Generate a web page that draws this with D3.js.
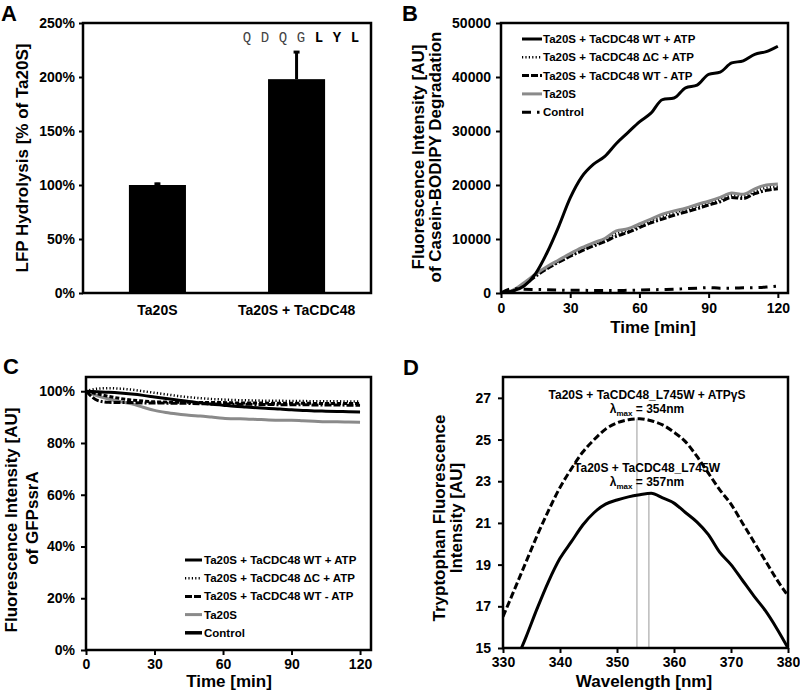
<!DOCTYPE html>
<html><head><meta charset="utf-8">
<script src="https://cdn.jsdelivr.net/npm/d3@7"></script>
<style>
body{margin:0;background:#fff;}
svg text{font-family:"Liberation Sans",Arial,Helvetica,sans-serif;font-weight:bold;fill:#000;}
</style></head><body>
<svg id="c" width="800" height="690"></svg>
<script>
// ---------------- DATA ----------------
// Panel A
const barCategories = ["Ta20S", "Ta20S + TaCDC48"];
const barValues = [1.00, 1.98];
const barErrors = [0.02, 0.26];
const barTicks = [0, 0.5, 1, 1.5, 2, 2.5];
const sequenceLetters = ["Q", "D", "Q", "G", "L", "Y", "L"];
const sequenceBold = [false, false, false, false, true, true, true];

// Panel B (time in min, fluorescence AU)
const timeMin = [0,5,10,15,20,25,30,35,40,45,50,55,60,65,70,75,80,85,90,95,100,105,110,115,120];
const caseinWtAtp   = [0,400,1300,3600,7500,12300,17600,21500,23800,25300,27700,29700,31700,33300,35800,36100,38000,38500,40500,40900,42600,43000,44200,44700,45700];
const caseinDeltaC  = [0,400,1700,3300,4700,5900,7000,8100,9000,9800,11000,11600,12500,13400,14200,14900,15400,16000,16700,17300,18100,17900,18800,19500,19700];
const caseinWtNoAtp = [0,350,1500,3100,4500,5700,6800,7800,8700,9500,10500,11200,12100,13000,13700,14400,15000,15600,16300,16900,17700,17500,18400,19000,19300];
const caseinTa20S   = [0,500,1900,3500,4900,6100,7300,8400,9300,10100,11500,11900,12800,13700,14600,15200,15700,16400,17000,17700,18500,18300,19300,20000,20200];
const caseinControl = [0,800,700,650,600,550,500,500,450,450,450,500,550,600,650,700,800,900,1000,900,900,950,1000,1100,1300];
const caseinTicksY = [0,10000,20000,30000,40000,50000];
const timeTicks = [0,30,60,90,120];

// Panel C (% of initial GFPssrA fluorescence)
const gfpWtAtp   = [100,99.8,99.6,99.3,98.9,98.4,97.8,97.2,96.6,96.0,95.5,95.0,94.6,94.2,93.9,93.6,93.3,93.1,92.8,92.6,92.4,92.3,92.2,92.1,92.0];
const gfpDeltaC  = [100,101.0,101.2,101.0,100.6,100.0,99.4,98.8,98.2,97.7,97.3,97.0,96.8,96.6,96.5,96.4,96.3,96.3,96.2,96.2,96.1,96.1,96.1,96.0,96.0];
const gfpWtNoAtp = [100,96.5,95.7,95.6,95.6,95.5,95.5,95.4,95.4,95.3,95.2,95.1,95.1,95.0,95.0,94.9,94.9,94.8,94.8,94.8,94.7,94.7,94.7,94.6,94.6];
const gfpTa20S   = [100,98.2,97.0,96.0,95.1,93.8,92.6,91.8,91.2,90.7,90.4,90.0,89.6,89.4,89.3,89.1,88.9,88.8,88.8,88.6,88.4,88.2,88.2,88.1,88.0];
const gfpControl = [100,99.0,98.0,97.2,96.6,96.2,95.9,95.8,95.7,95.7,95.6,95.6,95.6,95.5,95.5,95.5,95.4,95.4,95.4,95.4,95.3,95.3,95.3,95.3,95.2];
const gfpTicksY = [0,0.2,0.4,0.6,0.8,1.0];

const legendNames = ["Ta20S + TaCDC48 WT + ATP", "Ta20S + TaCDC48 \u0394C + ATP", "Ta20S + TaCDC48 WT - ATP", "Ta20S", "Control"];

// Panel D (wavelength nm, tryptophan fluorescence AU)
const wavelength = [330,332,334,336,338,340,342,344,346,348,350,352,354,356,358,360,362,364,366,368,370,372,374,376,378,380];
const trpAtpGammaS = [16.5,17.8,19.1,20.4,21.6,22.7,23.6,24.4,25.0,25.5,25.8,25.95,26.0,25.9,25.7,25.35,24.9,24.2,23.4,22.6,21.9,21.0,20.1,19.2,18.3,17.5];
const trpNoNucleotide = [12.9,14.2,15.5,16.9,18.2,19.3,20.1,20.9,21.5,21.9,22.1,22.25,22.35,22.42,22.2,21.95,21.5,21.05,20.45,19.6,19.0,18.25,17.5,16.8,15.95,15.0];
const trpTicksY = [15,17,19,21,23,25,27];
const wavelengthTicks = [330,340,350,360,370,380];
const peakWavelengths = [353.5, 355.6];
const peakIntensities = [26.0, 22.42];
const annotationTitles = ["Ta20S + TaCDC48_L745W + ATP\u03B3S", "Ta20S + TaCDC48_L745W"];
const annotationLambda = ["354nm", "357nm"];

// ---------------- STYLES ----------------
const FONT = '"Liberation Sans", Arial, Helvetica, sans-serif';
const TICK_FS = 14;
const TITLE_FS = 17;
const LEG_FS = 11.5;
const seriesStyle = [
  {stroke:"#000", width:3, dash:null},
  {stroke:"#000", width:2.5, dash:"1.2,2.2"},
  {stroke:"#000", width:3, dash:"7,2,7,2,2,2"},
  {stroke:"#8a8a8a", width:3, dash:null},
  {stroke:"#000", width:3, dash:"9,6,2.5,6"}
];
const seriesStyleC = seriesStyle.map((s,i)=> i===4 ? {stroke:"#000", width:3, dash:"4,2"} : s);
const legendStyleC = seriesStyle.map((s,i)=> i===4 ? {stroke:"#000", width:3.5, dash:null} : s);

const svg = d3.select("#c");

function frame(x0,y0,x1,y1){
  svg.append("rect").attr("x",x0).attr("y",y0).attr("width",x1-x0).attr("height",y1-y0)
    .attr("fill","none").attr("stroke","#000").attr("stroke-width",2.5);
}
function styleAxis(sel){
  sel.select(".domain").remove();
  sel.selectAll(".tick line").attr("stroke","#000").attr("stroke-width",2);
  sel.selectAll(".tick text").attr("font-size",TICK_FS).attr("font-weight","bold")
    .attr("font-family",FONT).attr("fill","#000");
}
function vTitle(x,y,txt,size){
  svg.append("text").attr("transform",`translate(${x},${y}) rotate(-90)`)
    .attr("text-anchor","middle").attr("dominant-baseline","central")
    .attr("font-size",size||TITLE_FS).text(txt);
}
function hTitle(x,y,txt,size){
  svg.append("text").attr("x",x).attr("y",y).attr("text-anchor","middle")
    .attr("font-size",size||TITLE_FS).text(txt);
}
function letter(x,y,t){
  svg.append("text").attr("x",x).attr("y",y).attr("font-size",22).text(t);
}
function applyStyle(sel, s){
  sel.attr("fill","none").attr("stroke",s.stroke).attr("stroke-width",s.width)
     .attr("stroke-dasharray",s.dash).attr("stroke-linejoin","round");
}

// ---------------- PANEL A ----------------
const A = {l:83, r:371, t:23, b:293};
const xA = d3.scaleBand().domain(barCategories).range([A.l,A.r]).paddingInner(0.59).paddingOuter(0.33);
const yA = d3.scaleLinear().domain([0,2.5]).range([A.b,A.t]);
svg.append("g").selectAll("rect").data(barCategories).join("rect")
  .attr("x",d=>xA(d)).attr("width",xA.bandwidth())
  .attr("y",(d,i)=>yA(barValues[i])).attr("height",(d,i)=>yA(0)-yA(barValues[i]))
  .attr("fill","#000");
const errG = svg.append("g");
barCategories.forEach((c,i)=>{
  const cx = xA(c)+xA.bandwidth()/2;
  errG.append("line").attr("x1",cx).attr("x2",cx).attr("y1",yA(barValues[i])).attr("y2",yA(barValues[i]+barErrors[i]))
    .attr("stroke","#000").attr("stroke-width",3);
  errG.append("line").attr("x1",cx-3).attr("x2",cx+3).attr("y1",yA(barValues[i]+barErrors[i])+1).attr("y2",yA(barValues[i]+barErrors[i])+1)
    .attr("stroke","#000").attr("stroke-width",3);
});
svg.append("g").attr("transform",`translate(${A.l},0)`)
  .call(d3.axisLeft(yA).tickValues(barTicks).tickSize(4).tickPadding(4).tickFormat(d3.format(".0%"))).call(styleAxis);
svg.append("g").attr("transform",`translate(0,${A.b})`)
  .call(d3.axisBottom(xA).tickSize(0).tickPadding(12)).call(styleAxis);
frame(A.l,A.t,A.r,A.b);
const seqX = d3.scalePoint().domain(d3.range(sequenceLetters.length)).range([247,355]);
svg.append("g").selectAll("text").data(sequenceLetters).join("text")
  .attr("x",(d,i)=>seqX(i)).attr("y",42).attr("text-anchor","middle")
  .style("font-family",'"Liberation Mono","Courier New",monospace')
  .style("font-weight",(d,i)=>sequenceBold[i]?"bold":"normal")
  .style("fill",(d,i)=>sequenceBold[i]?"#000":"#444")
  .attr("font-size",14).text(d=>d);
vTitle(22,158,"LFP Hydrolysis [% of Ta20S]");
letter(1,21,"A");

// ---------------- PANEL B ----------------
const B = {l:501, r:788, t:23, b:293};
const xB = d3.scaleLinear().domain([0,124.4]).range([B.l,B.r]);
const yB = d3.scaleLinear().domain([0,50000]).range([B.b,B.t]);
svg.append("clipPath").attr("id","clipB").append("rect").attr("x",B.l).attr("y",B.t).attr("width",B.r-B.l).attr("height",B.b-B.t);
const seriesB = [caseinWtAtp, caseinDeltaC, caseinWtNoAtp, caseinTa20S, caseinControl];
const lineB = d3.line().x((d,i)=>xB(timeMin[i])).y(d=>yB(d)).curve(d3.curveMonotoneX);
const gB = svg.append("g").attr("clip-path","url(#clipB)");
[2,1,3,0,4].forEach(k=>{ gB.append("path").datum(seriesB[k]).attr("d",lineB).call(applyStyle, seriesStyle[k]); });
svg.append("g").attr("transform",`translate(${B.l},0)`)
  .call(d3.axisLeft(yB).tickValues(caseinTicksY).tickSize(5).tickPadding(5).tickFormat(d3.format("d"))).call(styleAxis);
svg.append("g").attr("transform",`translate(0,${B.b})`)
  .call(d3.axisBottom(xB).tickValues(timeTicks).tickSize(5).tickPadding(5)).call(styleAxis);
frame(B.l,B.t,B.r,B.b);
const legB = svg.append("g");
legendNames.forEach((n,i)=>{
  const y = 39 + i*18.3;
  legB.append("line").attr("x1",522).attr("x2",542).attr("y1",y).attr("y2",y).call(applyStyle, seriesStyle[i]);
  legB.append("text").attr("x",543).attr("y",y+4).attr("font-size",LEG_FS).text(n);
});
vTitle(418,157,"Fluorescence Intensity [AU]");
vTitle(435,157,"of Casein-BODIPY Degradation");
hTitle(653,333,"Time [min]");
letter(402,21,"B");

// ---------------- PANEL C ----------------
const C = {l:86, r:371, t:377, b:650};
const xC = d3.scaleLinear().domain([0,124.8]).range([C.l,C.r]);
const yC = d3.scaleLinear().domain([0,1.055]).range([C.b,C.t]);
svg.append("clipPath").attr("id","clipC").append("rect").attr("x",C.l).attr("y",C.t).attr("width",C.r-C.l).attr("height",C.b-C.t);
const seriesC = [gfpWtAtp, gfpDeltaC, gfpWtNoAtp, gfpTa20S, gfpControl];
const lineC = d3.line().x((d,i)=>xC(timeMin[i])).y(d=>yC(d/100)).curve(d3.curveMonotoneX);
const gC = svg.append("g").attr("clip-path","url(#clipC)");
[3,0,4,2,1].forEach(k=>{ gC.append("path").datum(seriesC[k]).attr("d",lineC).call(applyStyle, seriesStyleC[k]); });
svg.append("g").attr("transform",`translate(${C.l},0)`)
  .call(d3.axisLeft(yC).tickValues(gfpTicksY).tickSize(5).tickPadding(6).tickFormat(d3.format(".0%"))).call(styleAxis);
svg.append("g").attr("transform",`translate(0,${C.b})`)
  .call(d3.axisBottom(xC).tickValues(timeTicks).tickSize(5).tickPadding(4)).call(styleAxis);
frame(C.l,C.t,C.r,C.b);
const legC = svg.append("g");
legendNames.forEach((n,i)=>{
  const y = 560 + i*18.2;
  legC.append("line").attr("x1",185).attr("x2",202).attr("y1",y).attr("y2",y).call(applyStyle, legendStyleC[i]);
  legC.append("text").attr("x",204).attr("y",y+4).attr("font-size",LEG_FS).text(n);
});
vTitle(11,520,"Fluorescence Intensity [AU]");
vTitle(32,518,"of GFPssrA");
hTitle(229,687,"Time [min]");
letter(3,374,"C");

// ---------------- PANEL D ----------------
const D = {l:503, r:788, t:377, b:648};
const xD = d3.scaleLinear().domain([330,380]).range([D.l,D.r]);
const yD = d3.scaleLinear().domain([15,28]).range([D.b,D.t]);
svg.append("clipPath").attr("id","clipD").append("rect").attr("x",D.l).attr("y",D.t).attr("width",D.r-D.l).attr("height",D.b-D.t);
const gD = svg.append("g").attr("clip-path","url(#clipD)");
peakWavelengths.forEach((w,i)=>{
  gD.append("line").attr("x1",xD(w)).attr("x2",xD(w)).attr("y1",yD(peakIntensities[i])).attr("y2",yD(15))
    .attr("stroke","#999").attr("stroke-width",1);
});
const lineD = d3.line().x((d,i)=>xD(wavelength[i])).y(d=>yD(d)).curve(d3.curveMonotoneX);
gD.append("path").datum(trpAtpGammaS).attr("d",lineD).call(applyStyle,{stroke:"#000",width:3,dash:"7,3"});
gD.append("path").datum(trpNoNucleotide).attr("d",lineD).call(applyStyle,{stroke:"#000",width:3,dash:null});
svg.append("g").attr("transform",`translate(${D.l},0)`)
  .call(d3.axisLeft(yD).tickValues(trpTicksY).tickSize(5).tickPadding(7)).call(styleAxis);
svg.append("g").attr("transform",`translate(0,${D.b})`)
  .call(d3.axisBottom(xD).tickValues(wavelengthTicks).tickSize(5).tickPadding(4)).call(styleAxis);
frame(D.l,D.t,D.r,D.b);
const annY = [399, 472];
annotationTitles.forEach((t,i)=>{
  svg.append("text").attr("x",647).attr("y",annY[i]).attr("text-anchor","middle").attr("font-size",12).text(t);
  const lt = svg.append("text").attr("x",647).attr("y",annY[i]+14).attr("text-anchor","middle").attr("font-size",12);
  lt.append("tspan").text("\u03BB");
  lt.append("tspan").attr("font-size",8).attr("dy",3).text("max");
  lt.append("tspan").attr("dy",-3).text(" = " + annotationLambda[i]);
});
vTitle(439,518,"Tryptophan Fluorescence");
vTitle(456,518,"Intensity [AU]");
hTitle(644,687,"Wavelength [nm]");
letter(403,375,"D");
</script>
</body></html>
